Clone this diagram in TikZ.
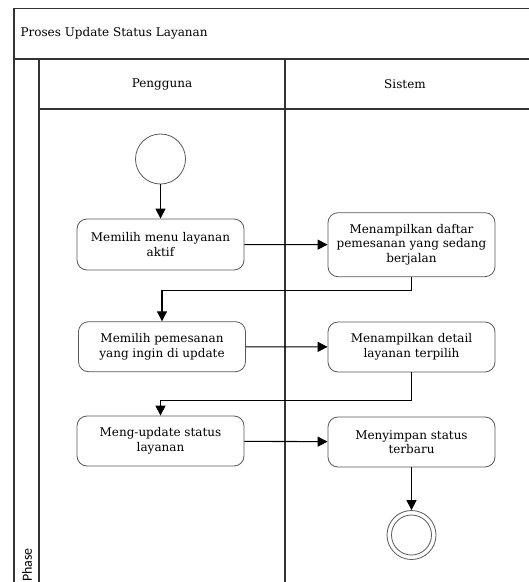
\documentclass[tikz,border=0pt]{standalone}
\usepackage{fontspec}
\setmainfont{DejaVu Serif}
\newfontfamily\phasefont{Carlito}
\usetikzlibrary{arrows.meta}
\begin{document}
\begin{tikzpicture}[x=1pt,y=-1pt,
  frame/.style={draw=black!80,line width=1.3pt},
  act/.style={draw=black!65,line width=0.8pt,rounded corners=10pt,fill=white,
    minimum width=167pt,align=center,font=\fontsize{12}{14.5}\selectfont,text=black,inner sep=2pt},
  flow/.style={draw=black,line width=1.1pt,-{Triangle[length=10pt,width=10pt]}},
  startnode/.style={circle,draw=black!65,line width=0.8pt,minimum size=50pt,inner sep=0pt},
  lbl/.style={font=\fontsize{12}{14.5}\selectfont,text=black}]
\useasboundingbox (0,0) rectangle (529,582);
% pool frame and lanes
\draw[frame] (14,582) -- (14,8.5) -- (529,8.5);
\draw[frame] (14,59) -- (529,59);
\draw[frame] (39,109) -- (529,109);
\draw[frame] (39,59) -- (39,582);
\draw[frame] (285,59) -- (285,582);
\node[lbl,anchor=west] (title) at (17,33) {Proses Update Status Layanan};
\node[lbl] (lane1) at (162,84) {Pengguna};
\node[lbl] (lane2) at (405,84) {Sistem};
\node[rotate=90,anchor=west,font=\phasefont\fontsize{14}{16}\selectfont,text=black,inner sep=1pt] (phase) at (27,583) {Phase};
% activities
\node[startnode] (start) at (160.5,159) {};
\node[act,minimum height=51pt] (a) at (160.5,244.5) {Memilih menu layanan\\aktif};
\node[act,minimum height=64pt] (b) at (411.5,244.7) {Menampilkan daftar\\pemesanan yang sedang\\berjalan};
\node[act,minimum height=50pt] (c) at (162,346.7) {Memilih pemesanan\\yang ingin di update};
\node[act,minimum height=50pt] (d) at (411.5,347) {Menampilkan detail\\layanan terpilih};
\node[act,minimum height=50pt] (e) at (160.5,441) {Meng-update status\\layanan};
\node[act,minimum height=50pt] (f) at (411.5,442) {Menyimpan status\\terbaru};
\node[startnode,minimum size=49pt] (end) at (411.5,535) {};
\draw[draw=black!65,line width=0.8pt] (end.center) circle (20pt);
% flows
\draw[flow] (start) -- (a);
\draw[flow] (a) -- (b);
\draw[flow] (b.south) -- ++(0,13) -| (c.north);
\draw[flow] (c) -- (d);
\draw[flow] (d.south) -- ++(0,28) -| (e.north);
\draw[flow] (e) -- (f);
\draw[flow] (f) -- (end);
\end{tikzpicture}
\end{document}
